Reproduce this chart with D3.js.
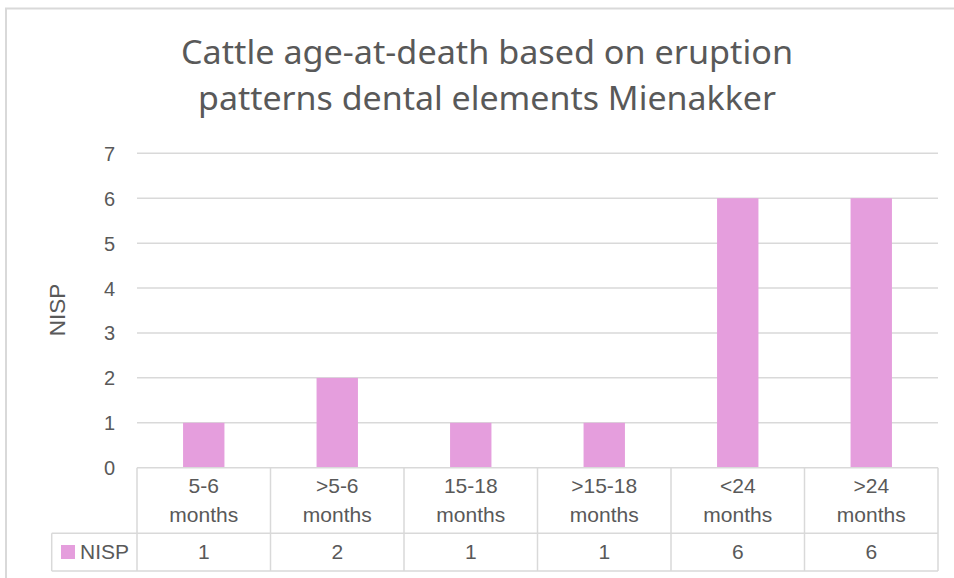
<!DOCTYPE html>
<html>
<head>
<meta charset="utf-8">
<script src="https://cdn.jsdelivr.net/npm/d3@7"></script>
<style>
  html, body { margin: 0; padding: 0; background: #fff; }
  svg { display: block; }
</style>
</head>
<body>
<svg id="chart"></svg>
<script>
// chart data
var titleLines = ["Cattle age-at-death based on eruption", "patterns dental elements Mienakker"];
var categories = [["5-6", "months"], [">5-6", "months"], ["15-18", "months"], [">15-18", "months"], ["<24", "months"], [">24", "months"]];
var nispValues = [1, 2, 1, 1, 6, 6];
var yTicks = [0, 1, 2, 3, 4, 5, 6, 7];
var seriesName = "NISP";
var yLabel = "NISP";

var width = 954, height = 578;
var svg = d3.select("#chart").attr("width", width).attr("height", height);

var textColor = "#595959";
var gridColor = "#d9d9d9";
var barColor = "#e59edd";
var font = "'Liberation Sans', Arial, sans-serif";

// outer chart border (cropped on right/bottom)
svg.append("path")
  .attr("d", "M6,578 L6,8.5 L954,8.5")
  .attr("fill", "none")
  .attr("stroke", gridColor)
  .attr("stroke-width", 2);

// title
svg.append("g").attr("class", "title")
  .selectAll("text")
  .data(titleLines)
  .enter().append("text")
    .attr("x", 487)
    .attr("y", function(d, i) { return 64 + i * 46; })
    .attr("text-anchor", "middle")
    .attr("fill", textColor)
    .attr("font-family", "'Noto Sans', 'Open Sans', sans-serif")
    .attr("font-size", 32)
    .attr("textLength", function(d, i) { return i === 0 ? 612 : 578; })
    .attr("lengthAdjust", "spacingAndGlyphs")
    .text(function(d) { return d; });

// scales
var x = d3.scaleBand()
  .domain(d3.range(categories.length))
  .range([137, 938])
  .padding(0);

var y = d3.scaleLinear()
  .domain([0, 7])
  .range([467.7, 153.3]);

// gridlines
svg.append("g")
  .attr("class", "grid")
  .selectAll("line")
  .data(yTicks.filter(function(d) { return d > 0; }))
  .enter().append("line")
    .attr("x1", 137).attr("x2", 938)
    .attr("y1", function(d) { return y(d); })
    .attr("y2", function(d) { return y(d); })
    .attr("stroke", gridColor)
    .attr("stroke-width", 1.5);

// y axis labels
var yAxis = d3.axisLeft(y).tickValues(yTicks).tickSize(0).tickPadding(0).tickFormat(d3.format("d"));
var yg = svg.append("g")
  .attr("transform", "translate(115,0)")
  .call(yAxis);
yg.select(".domain").remove();
yg.selectAll("text")
  .attr("fill", textColor)
  .attr("font-family", font)
  .attr("font-size", 20)
  .attr("dy", "0.35em");

// y title
svg.append("text")
  .attr("transform", "translate(65,310) rotate(-90)")
  .attr("text-anchor", "middle")
  .attr("fill", textColor)
  .attr("font-family", font)
  .attr("font-size", 22.5)
  .text(yLabel);

// bars
var barW = x.bandwidth() * 0.31;
svg.append("g")
  .attr("class", "bars")
  .selectAll("rect")
  .data(nispValues)
  .enter().append("rect")
    .attr("x", function(d, i) { return x(i) + (x.bandwidth() - barW) / 2; })
    .attr("y", function(d) { return y(d); })
    .attr("width", barW)
    .attr("height", function(d) { return y(0) - y(d); })
    .attr("fill", barColor);

// data table
var tTop = 467.7, tMid = 533.3, tBot = 571, legLeft = 51.7;
var table = svg.append("g").attr("class", "table")
  .attr("stroke", gridColor).attr("stroke-width", 1.5).attr("fill", "none");

table.append("line").attr("x1", 137).attr("x2", 938).attr("y1", tTop).attr("y2", tTop);
table.append("line").attr("x1", legLeft).attr("x2", 938).attr("y1", tMid).attr("y2", tMid);
table.append("line").attr("x1", legLeft).attr("x2", 938).attr("y1", tBot).attr("y2", tBot);
table.append("line").attr("x1", legLeft).attr("x2", legLeft).attr("y1", tMid).attr("y2", tBot);
table.selectAll(".col")
  .data(d3.range(categories.length + 1))
  .enter().append("line")
    .attr("class", "col")
    .attr("x1", function(i) { return i < categories.length ? x(i) : x.range()[1]; })
    .attr("x2", function(i) { return i < categories.length ? x(i) : x.range()[1]; })
    .attr("y1", tTop).attr("y2", tBot);

// category labels
var catG = svg.append("g")
  .attr("fill", textColor)
  .attr("font-family", font)
  .attr("font-size", 21)
  .attr("text-anchor", "middle");
categories.forEach(function(c, i) {
  c.forEach(function(line, j) {
    catG.append("text")
      .attr("x", x(i) + x.bandwidth() / 2)
      .attr("y", 493 + j * 29)
      .text(line);
  });
});

// values row
catG.selectAll(".val")
  .data(nispValues)
  .enter().append("text")
    .attr("class", "val")
    .attr("x", function(d, i) { return x(i) + x.bandwidth() / 2; })
    .attr("y", 559)
    .text(function(d) { return d; });

// legend key
svg.append("rect")
  .attr("x", 61).attr("y", 545).attr("width", 14).attr("height", 14)
  .attr("fill", barColor);
svg.append("text")
  .attr("x", 80).attr("y", 559)
  .attr("fill", textColor)
  .attr("font-family", font)
  .attr("font-size", 21)
  .text(seriesName);
</script>
</body>
</html>
